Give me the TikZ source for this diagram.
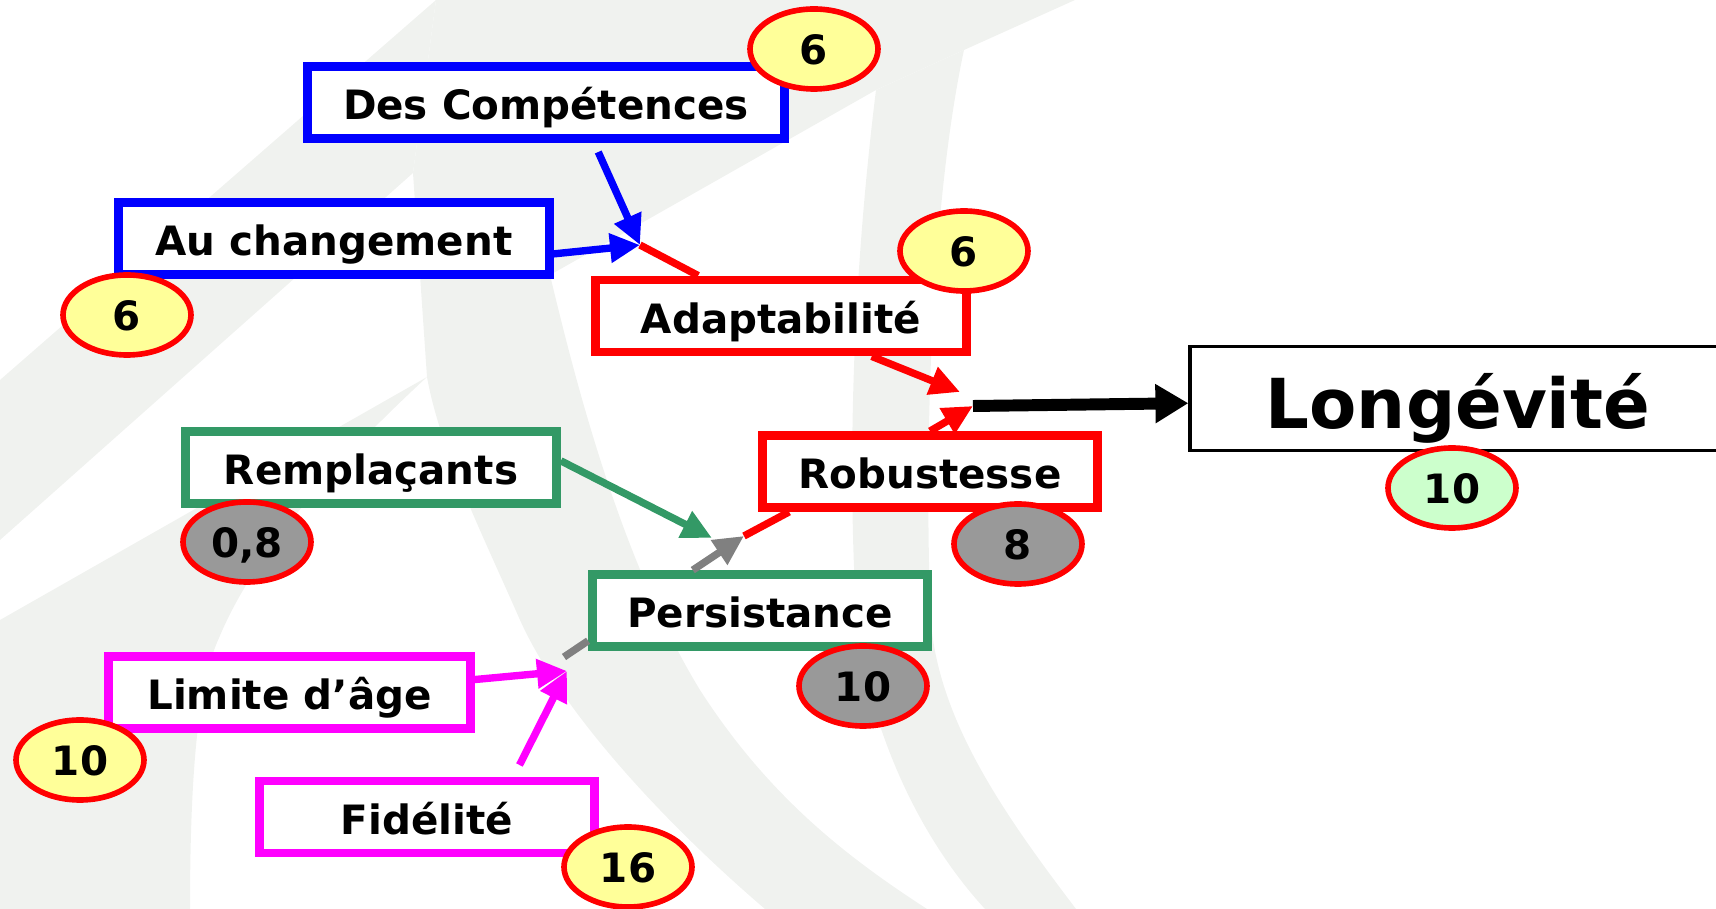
\documentclass[tikz,border=0pt]{standalone}
\usepackage{fontspec}
\setmainfont{DejaVu Sans}
\usetikzlibrary{arrows.meta,shapes.geometric}

\definecolor{fond}{HTML}{F0F2EF}
\definecolor{bleu}{HTML}{0000FF}
\definecolor{rouge}{HTML}{FF0000}
\definecolor{vert}{HTML}{339966}
\definecolor{rose}{HTML}{FF00FF}
\definecolor{jaune}{HTML}{FFFF99}
\definecolor{gris}{HTML}{999999}
\definecolor{vertclair}{HTML}{CCFFCC}
\definecolor{grisfleche}{HTML}{808080}

\begin{document}
\begin{tikzpicture}[
	boite/.style={draw, line width=2.5pt, fill=white, minimum height=0.72cm, inner sep=0pt, text height=9.8pt, text depth=0pt, font=\fontsize{11.5}{14}\selectfont\bfseries},
	note/.style={ellipse, draw=rouge, line width=1.6pt, minimum width=1.28cm, minimum height=0.80cm, inner sep=0pt, text height=9pt, text depth=0pt, font=\fontsize{11.5}{14}\selectfont\bfseries},
	fleche/.style={-{Triangle[length=0.3cm,width=0.28cm]}, line width=2.1pt}
	] %Début du dessin et styles
					\useasboundingbox (0,0) rectangle (17.16,9.09); %Cadre de la page
						%Filigrane du fond
					\fill[fond] (4.36,9.09) -- (10.75,9.09) -- (9.64,8.59) -- (8.76,8.19) -- (5.50,6.34) .. controls (5.75,5.3) and (6.2,3.5) .. (7.00,2.19) .. controls (7.7,1.1) and (8.5,0.5) .. (9.27,0) -- (7.65,0) .. controls (6.6,0.9) and (5.6,2.0) .. (5.20,2.89) .. controls (4.8,3.8) and (4.4,4.6) .. (4.27,5.32) -- (4.13,7.36) -- cycle; %Bande du milieu
					\fill[fond] (4.36,9.09) -- (4.13,7.36) -- (0,3.69) -- (0,5.29) -- cycle; %Bande en haut a gauche
					\fill[fond] (4.27,5.32) -- (0,2.89) -- (0,0) -- (1.90,0) .. controls (1.9,1.5) and (2.0,2.3) .. (2.19,2.71) .. controls (2.6,3.7) and (3.6,4.7) .. (4.27,5.32) -- cycle; %Zone en bas a gauche
					\fill[fond] (8.76,8.19) .. controls (8.55,6.5) and (8.45,4.5) .. (8.58,2.69) .. controls (8.8,1.5) and (9.3,0.6) .. (9.85,0) -- (10.76,0) .. controls (10.0,1.0) and (9.3,2.0) .. (9.30,3.09) .. controls (9.25,4.6) and (9.3,7.0) .. (9.64,8.59) -- cycle; %Bande de droite
						%Boites
					\node[boite, draw=bleu, minimum width=4.77cm] (comp) at (5.46,8.065) {Des Compétences}; %Competences
					\node[boite, draw=bleu, minimum width=4.31cm] (chg) at (3.34,6.705) {Au changement}; %Changement
					\node[boite, draw=rouge, minimum width=3.71cm] (adapt) at (7.81,5.93) {Adaptabilité}; %Adaptabilite
					\node[boite, draw=rouge, minimum width=3.35cm] (robust) at (9.30,4.375) {Robustesse}; %Robustesse
					\node[boite, draw=vert, minimum width=3.71cm] (rempl) at (3.71,4.415) {Remplaçants}; %Remplacants
					\node[boite, draw=vert, minimum width=3.35cm] (persist) at (7.60,2.985) {Persistance}; %Persistance
					\node[boite, draw=rose, minimum width=3.62cm] (limite) at (2.895,2.165) {Limite d’âge}; %Limite d'age
					\node[boite, draw=rose, minimum width=3.35cm] (fidel) at (4.27,0.92) {Fidélité}; %Fidelite
					\node[boite, draw=black, line width=0.9pt, minimum width=5.36cm, minimum height=1.04cm, text height=16.8pt, font=\fontsize{19.6}{24}\selectfont\bfseries] (longev) at (14.58,5.105) {Longévité}; %Resultat final
						%Fleches
					\coordinate (hub1) at (6.40,6.64); %Rencontre des fleches bleues
					\coordinate (hubA) at (9.60,5.17); %Bout de la fleche d'adaptabilite
					\coordinate (hub2) at (9.73,5.03); %Depart de la fleche noire
					\coordinate (hub3) at (7.12,3.71); %Bout de la fleche verte
					\coordinate (hub4) at (7.44,3.73); %Bout de la fleche grise
					\coordinate (hub5) at (5.64,2.52); %Bout du trait gris
					\coordinate (hub6) at (5.67,2.38); %Rencontre des fleches roses
					\draw[fleche, bleu, shorten <=0.1cm] (comp.-40) -- (hub1); %Competences vers adaptabilite
					\draw[fleche, bleu] (chg.-4) -- (hub1); %Changement vers adaptabilite
					\draw[rouge, line width=2.1pt] (hub1) -- (adapt.154); %Suite vers adaptabilite
					\draw[fleche, rouge] (adapt.-24) -- (hubA); %Adaptabilite vers longevite
					\draw[fleche, rouge] (robust.north) -- (hub2); %Robustesse vers longevite
					\draw[-{Triangle[length=0.33cm,width=0.37cm]}, line width=3.4pt] (hub2) -- (longev.181); %Fleche noire
					\draw[fleche, vert] (rempl.2) -- (hub3); %Remplacants vers robustesse
					\draw[fleche, grisfleche] (persist.149) -- (hub4); %Persistance vers robustesse
					\draw[rouge, line width=2.1pt] (hub4) -- (robust.196); %Suite vers robustesse
					\draw[grisfleche, line width=2.1pt] (persist.190) -- (hub5); %Trait gris a gauche
					\draw[fleche, rose] (limite.4) -- (hub6); %Limite d'age vers persistance
					\draw[fleche, rose, shorten <=0.13cm] (fidel.25) -- (hub6); %Fidelite vers persistance
						%Notes
					\node[note, fill=jaune] (ncomp) at (8.14,8.60) {6}; %Note des competences
					\node[note, fill=jaune] (nchg) at (1.27,5.94) {6}; %Note du changement
					\node[note, fill=jaune] (nadapt) at (9.64,6.58) {6}; %Note de l'adaptabilite
					\node[note, fill=vertclair] (nlongev) at (14.52,4.21) {10}; %Note de la longevite
					\node[note, fill=gris] (nrempl) at (2.47,3.67) {0,8}; %Note des remplacants
					\node[note, fill=gris] (nrobust) at (10.18,3.65) {8}; %Note de la robustesse
					\node[note, fill=gris] (npersist) at (8.63,2.23) {10}; %Note de la persistance
					\node[note, fill=jaune] (nlimite) at (0.80,1.49) {10}; %Note de la limite d'age
					\node[note, fill=jaune] (nfidel) at (6.28,0.42) {16}; %Note de la fidelite
				\end{tikzpicture}
\end{document}
